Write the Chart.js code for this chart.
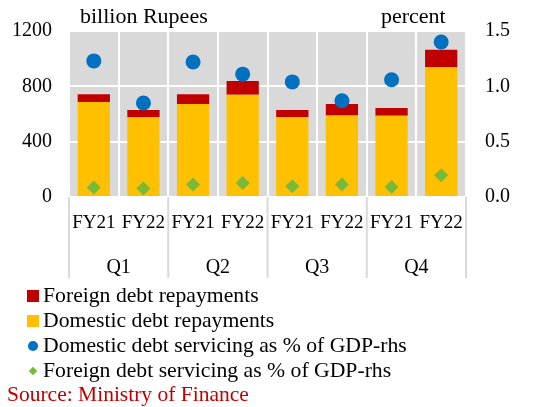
<!DOCTYPE html>
<html>
<head>
<meta charset="utf-8">
<script src="https://cdn.jsdelivr.net/npm/chart.js@4"></script>
<style>
  body { margin: 0; background: #fff; }
  #wrap { position: relative; width: 542px; height: 407px; font-family: "Liberation Serif", serif; color: #000; }
  #c { position: absolute; left: 0; top: 0; }
  .txt { position: absolute; font-size: 22px; line-height: 25px; white-space: nowrap; }
  .leg { position: absolute; left: 0; top: 283px; }
  .leg div { height: 25px; line-height: 25px; font-size: 21.7px; position: relative; padding-left: 43px; white-space: nowrap; }
  .mk { position: absolute; top: 50%; }
</style>
</head>
<body>
<div id="wrap">
  <canvas id="c" width="542" height="407"></canvas>
  <div class="txt" style="left:80px; top:3px;">billion Rupees</div>
  <div class="txt" style="left:381px; top:3px;">percent</div>
  <div class="leg" id="legend"></div>
  <div class="txt" style="left:7px; top:382px; font-size:21.5px; color:#C00000;">Source: Ministry of Finance</div>
</div>
<script>
const quarters = ['Q1', 'Q2', 'Q3', 'Q4'];
const periods = ['FY21', 'FY22', 'FY21', 'FY22', 'FY21', 'FY22', 'FY21', 'FY22'];
const foreignRepay = [56, 53, 71, 99, 53, 82, 56, 125];
const domesticRepay = [687, 576, 672, 740, 576, 590, 588, 939];
const domesticServicePct = [1.23, 0.85, 1.22, 1.11, 1.04, 0.87, 1.06, 1.40];
const foreignServicePct = [0.085, 0.076, 0.112, 0.127, 0.097, 0.112, 0.091, 0.197];
const leftTicks = [0, 400, 800, 1200];
const rightTicks = [0, 0.5, 1.0, 1.5];

const RED = '#C00000', YELLOW = '#FFC000', BLUE = '#0070C0', GREEN = '#7AB83A', GREY = '#D9D9D9';
const FONT = { family: 'Liberation Serif', size: 20 };

// legend as html, built from the dataset list
const legendItems = [
  { label: 'Foreign debt repayments', color: RED, kind: 'square' },
  { label: 'Domestic debt repayments', color: YELLOW, kind: 'square' },
  { label: 'Domestic debt servicing as % of GDP-rhs', color: BLUE, kind: 'circle' },
  { label: 'Foreign debt servicing as % of GDP-rhs', color: GREEN, kind: 'diamond' }
];
const leg = document.getElementById('legend');
legendItems.forEach(it => {
  const row = document.createElement('div');
  const m = document.createElement('span');
  m.className = 'mk';
  if (it.kind === 'square') {
    m.style.cssText = `left:27px;width:12px;height:12px;margin-top:-6px;background:${it.color}`;
  } else if (it.kind === 'circle') {
    m.style.cssText = `left:28px;width:10px;height:10px;margin-top:-5px;border-radius:50%;background:${it.color}`;
  } else {
    m.style.cssText = `left:30px;width:6px;height:6px;margin-top:-3px;transform:rotate(45deg);background:${it.color}`;
  }
  row.appendChild(m);
  row.appendChild(document.createTextNode(it.label));
  leg.appendChild(row);
});

const plotBg = {
  id: 'plotBg',
  beforeDraw(chart) {
    const a = chart.chartArea, ctx = chart.ctx;
    ctx.save();
    ctx.fillStyle = GREY;
    ctx.fillRect(a.left, a.top, a.right - a.left, a.bottom - a.top);
    ctx.restore();
  }
};

const separators = {
  id: 'separators',
  afterDraw(chart) {
    const x = chart.scales.x, ctx = chart.ctx;
    const w = x.width / periods.length;
    ctx.save();
    ctx.strokeStyle = GREY;
    ctx.lineWidth = 2;
    for (let k = 0; k <= periods.length; k += 2) {
      const px = x.left + k * w;
      ctx.beginPath();
      ctx.moveTo(px, chart.chartArea.bottom);
      ctx.lineTo(px, chart.chartArea.bottom + 81);
      ctx.stroke();
    }
    ctx.restore();
  }
};

new Chart(document.getElementById('c'), {
  type: 'bar',
  data: {
    labels: periods,
    datasets: [
      { label: 'Domestic debt repayments', data: domesticRepay, backgroundColor: YELLOW, stack: 's', order: 2,
        barPercentage: 0.65, categoryPercentage: 1 },
      { label: 'Foreign debt repayments', data: foreignRepay, backgroundColor: RED, stack: 's', order: 2,
        barPercentage: 0.65, categoryPercentage: 1 },
      { type: 'line', label: 'Domestic debt servicing as % of GDP-rhs', data: domesticServicePct, yAxisID: 'y1',
        showLine: false, pointStyle: 'circle', pointRadius: 7.5, pointBackgroundColor: BLUE, pointBorderWidth: 0, order: 0 },
      { type: 'line', label: 'Foreign debt servicing as % of GDP-rhs', data: foreignServicePct, yAxisID: 'y1',
        showLine: false, pointStyle: 'rectRot', pointRadius: 7, pointBackgroundColor: GREEN, pointBorderWidth: 0, order: 0 }
    ]
  },
  options: {
    responsive: false,
    animation: false,
    layout: { padding: { top: 31 } },
    plugins: { legend: { display: false }, tooltip: { enabled: false } },
    scales: {
      x: {
        stacked: true,
        offset: true,
        grid: { color: '#fff', lineWidth: 2, offset: true, drawTicks: false },
        border: { display: false },
        ticks: { color: '#000', font: { family: 'Liberation Serif', size: 19 }, padding: 15, maxRotation: 0, autoSkip: false },
        afterFit(s) { s.height = 45; }
      },
      xq: {
        type: 'category',
        position: 'bottom',
        labels: quarters,
        offset: true,
        grid: { display: false },
        border: { display: false },
        ticks: { color: '#000', font: FONT, padding: 6 },
        afterFit(s) { s.height = 165; }
      },
      y: {
        stacked: true,
        min: 0, max: 1200,
        afterBuildTicks(s) { s.ticks = leftTicks.map(v => ({ value: v })); },
        grid: { color: '#fff', lineWidth: 2, drawTicks: false },
        border: { display: false },
        ticks: { color: '#000', font: FONT, padding: 17, callback: v => String(v) },
        afterFit(s) { s.width = 69; }
      },
      y1: {
        position: 'right',
        min: 0, max: 1.5,
        afterBuildTicks(s) { s.ticks = rightTicks.map(v => ({ value: v })); },
        grid: { display: false, drawTicks: false },
        border: { display: false },
        ticks: { color: '#000', font: FONT, padding: 19, callback: v => Number(v).toFixed(1) },
        afterFit(s) { s.width = 76; }
      }
    }
  },
  plugins: [plotBg, separators]
});
</script>
</body>
</html>
